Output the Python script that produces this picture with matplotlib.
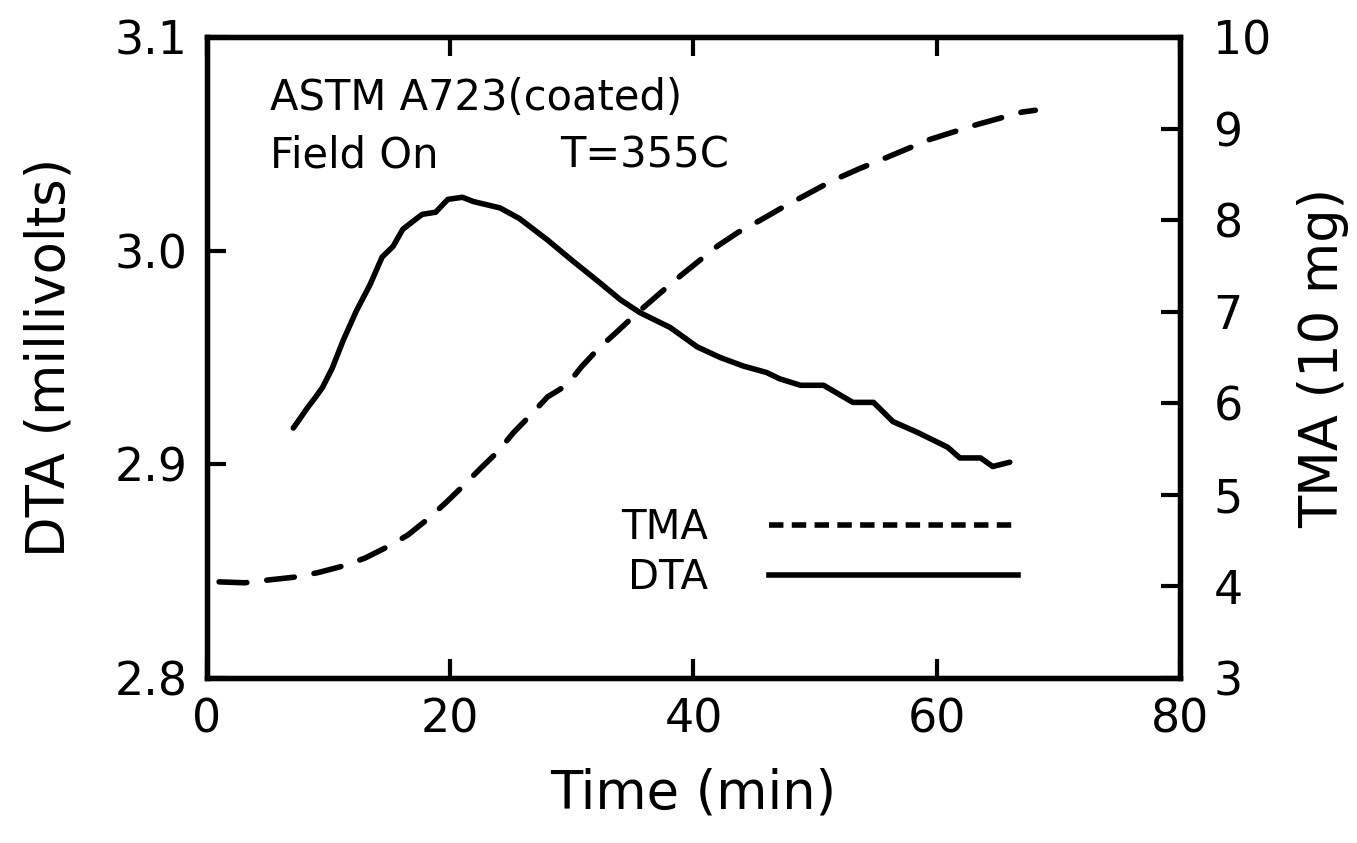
import matplotlib
matplotlib.use("Agg")
import matplotlib.pyplot as plt
from matplotlib.lines import Line2D
from matplotlib.ticker import FormatStrFormatter

# DTA trace (left axis, millivolts)
dta_t = [7.1, 7.6, 8.2, 9.0, 9.5, 10.3, 11.2, 12.3, 13.4, 14.4, 15.3, 16.1,
         17.0, 17.7, 18.8, 19.8, 21.0, 21.9, 24.1, 25.7, 28.0, 29.9, 32.3,
         34.0, 35.6, 38.1, 40.3, 42.2, 44.1, 46.0, 47.1, 48.8, 50.7, 53.1,
         54.8, 56.4, 58.4, 60.9, 61.9, 63.6, 64.6, 66.0]
dta_v = [2.917, 2.921, 2.926, 2.932, 2.936, 2.945, 2.958, 2.972, 2.984,
         2.997, 3.002, 3.010, 3.014, 3.017, 3.018, 3.024, 3.025, 3.023,
         3.020, 3.015, 3.005, 2.996, 2.985, 2.977, 2.971, 2.964, 2.955,
         2.950, 2.946, 2.943, 2.940, 2.937, 2.937, 2.929, 2.929, 2.920,
         2.915, 2.908, 2.903, 2.903, 2.899, 2.901]

# TMA trace (right axis, 10 mg)
tma_t = [1.0, 3.1, 5.0, 7.1, 9.1, 11.1, 13.0, 14.8, 16.5, 18.1, 19.6, 21.0,
         22.5, 23.9, 25.2, 26.6, 28.0, 29.6, 30.8, 32.2, 33.7, 35.4, 37.4,
         39.0, 40.5, 42.0, 43.7, 45.5, 47.2, 49.3, 51.4, 53.6, 55.8, 57.6,
         59.4, 61.3, 63.2, 65.1, 67.0, 68.1]
tma_v = [4.05, 4.04, 4.07, 4.10, 4.15, 4.22, 4.31, 4.43, 4.56, 4.73, 4.91,
         5.09, 5.29, 5.47, 5.68, 5.87, 6.07, 6.20, 6.40, 6.60, 6.78, 6.99,
         7.22, 7.40, 7.56, 7.72, 7.87, 8.00, 8.13, 8.28, 8.43, 8.56, 8.68,
         8.78, 8.88, 8.96, 9.04, 9.11, 9.18, 9.20]

x_ticks = [0, 20, 40, 60, 80]
dta_ticks = [2.8, 2.9, 3.0, 3.1]
tma_ticks = [3, 4, 5, 6, 7, 8, 9, 10]

plt.rcParams['font.family'] = 'DejaVu Sans'

fig = plt.figure(figsize=(13.57, 8.43), dpi=100)
ax = fig.add_axes([0.1525, 0.1957, 0.7171, 0.7604])
ax2 = ax.twinx()

lw = 4.0
ax.plot(dta_t, dta_v, color='black', lw=lw, solid_joinstyle='round',
        solid_capstyle='round')
ax2.plot(tma_t, tma_v, color='black', lw=lw, linestyle=(0, (5.0, 3.6)),
         dash_capstyle='round')

ax.set_xlim(0, 80)
ax.set_ylim(2.8, 3.1)
ax2.set_ylim(3, 10)
ax.set_xticks(x_ticks)
ax.set_yticks(dta_ticks)
ax2.set_yticks(tma_ticks)
ax.yaxis.set_major_formatter(FormatStrFormatter('%.1f'))

for a in (ax, ax2):
    for s in a.spines.values():
        s.set_linewidth(3.8)
ax.tick_params(axis='both', direction='in', length=14, width=3,
               labelsize=33, pad=14, top=True)
ax.tick_params(axis='x', pad=14)
ax2.tick_params(axis='y', direction='in', length=14, width=3,
                labelsize=33, pad=24)

ax.set_xlabel('Time (min)', fontsize=38, labelpad=18)
ax.set_ylabel('DTA (millivolts)', fontsize=38, labelpad=28)
ax2.set_ylabel('TMA (10 mg)', fontsize=38, labelpad=18)

ax.text(0.065, 0.886, 'ASTM A723(coated)', transform=ax.transAxes,
        fontsize=30, va='baseline', ha='left')
ax.text(0.065, 0.796, 'Field On', transform=ax.transAxes,
        fontsize=30, va='baseline', ha='left')
ax.text(0.363, 0.796, 'T=355C', transform=ax.transAxes,
        fontsize=30, va='baseline', ha='left')

handles = [Line2D([], [], color='black', lw=lw, linestyle=(0, (2.6, 1.5))),
           Line2D([], [], color='black', lw=lw)]
ax.legend(handles, ['TMA', 'DTA'], loc='upper left',
          bbox_to_anchor=(0.426, 0.265), frameon=False, markerfirst=False,
          fontsize=29, handlelength=6.2, handletextpad=1.5,
          labelspacing=0.25, borderpad=0, borderaxespad=0)

fig.savefig('out.png', dpi=100)
